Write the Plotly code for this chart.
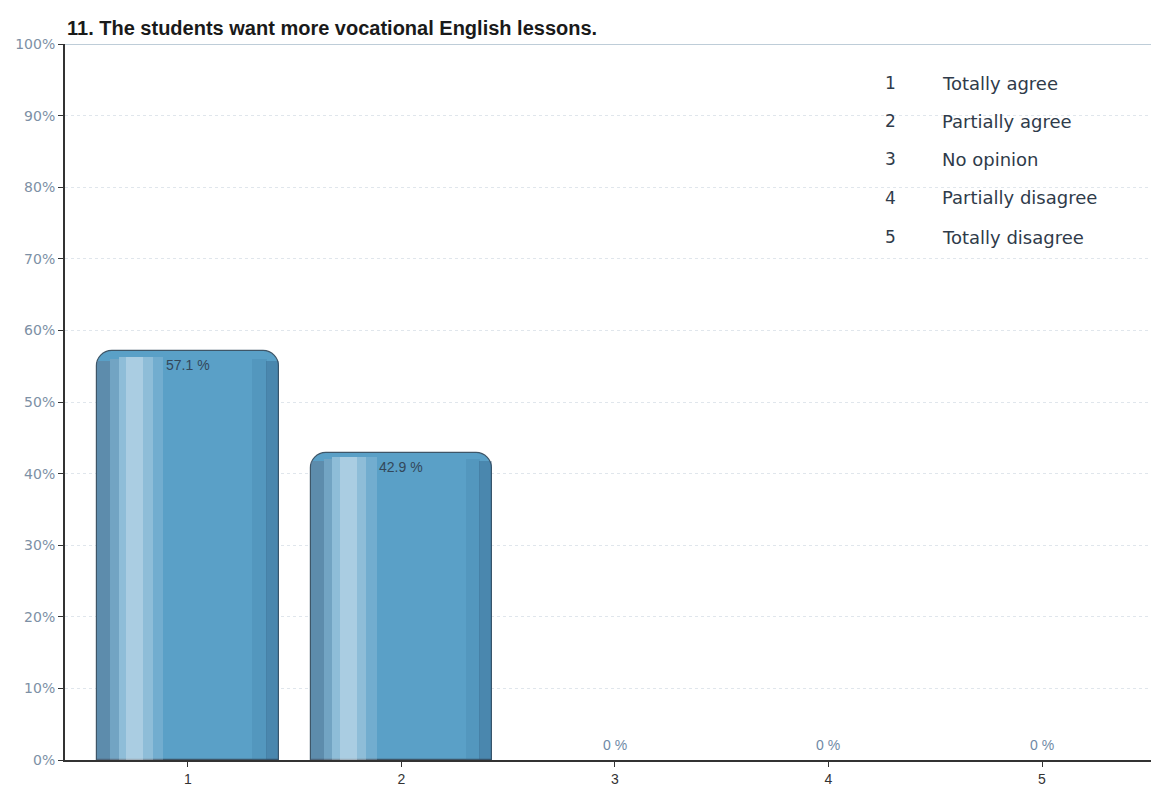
import plotly.graph_objects as go

categories = ["1", "2", "3", "4", "5"]
values = [57.1, 42.9, 0, 0, 0]
value_labels = ["57.1 %", "42.9 %", "0 %", "0 %", "0 %"]
legend_nums = ["1", "2", "3", "4", "5"]
legend_texts = ["Totally agree", "Partially agree", "No opinion", "Partially disagree", "Totally disagree"]
y_ticks = [0, 10, 20, 30, 40, 50, 60, 70, 80, 90, 100]
title_text = "11. The students want more vocational English lessons."

xs = [int(c) for c in categories]
lw = [1.2 if v > 0 else 0 for v in values]

fig = go.Figure()
# main bars
fig.add_trace(go.Bar(
    x=xs, y=values, width=0.85,
    marker=dict(color="#5aa0c7", line=dict(color="#3e5668", width=lw), cornerradius=16),
    hoverinfo="skip", showlegend=False,
))

# cylinder shading strips (offset, width, colour, height factor)
strips = [
    (-0.425, 0.06, "rgba(95,120,145,0.5)", 0.975),
    (-0.365, 0.04, "rgba(150,170,190,0.4)", 0.98),
    (-0.325, 0.16, "rgba(215,228,240,0.42)", 0.985),
    (-0.29, 0.08, "rgba(235,242,250,0.3)", 0.985),
    (-0.165, 0.05, "rgba(200,220,235,0.22)", 0.985),
    (0.30, 0.07, "rgba(50,100,140,0.15)", 0.98),
    (0.365, 0.06, "rgba(40,80,115,0.3)", 0.975),
]
for off, w, col, hf in strips:
    fig.add_trace(go.Bar(
        x=xs, y=[v * hf for v in values], width=w, offset=off,
        marker=dict(color=col, line=dict(width=0)),
        hoverinfo="skip", showlegend=False,
    ))

annotations = [dict(
    text="<b>" + title_text + "</b>", xref="paper", yref="paper", x=0.0, y=1.0,
    xanchor="left", yanchor="bottom", yshift=3, showarrow=False,
    font=dict(family="Liberation Sans, Arial", size=20, color="#1a1a1a"),
)]
# value labels
for x, v, lab in zip(xs, values, value_labels):
    annotations.append(dict(
        text=lab, xref="x", yref="y", x=x, y=v, xanchor="center", yanchor="middle",
        yshift=-14 if v > 0 else 15, showarrow=False,
        font=dict(family="Liberation Sans, Arial", size=14,
                  color="#33475a" if v > 0 else "#6f8aa6"),
    ))
leg_y = [94.5, 89.2, 83.9, 78.5, 73.0]
for n, t, yy in zip(legend_nums, legend_texts, leg_y):
    annotations.append(dict(text=n, xref="paper", yref="y", x=0.7545, y=yy, xanchor="center",
                            yanchor="middle", showarrow=False,
                            font=dict(family="DejaVu Sans", size=17, color="#2f3b4a")))
    annotations.append(dict(text=t, xref="paper", yref="y", x=0.8, y=yy, xanchor="left",
                            yanchor="middle", showarrow=False,
                            font=dict(family="DejaVu Sans", size=18, color="#2f3b4a")))

fig.update_layout(
    width=1151, height=782,
    margin=dict(l=57, r=0, t=36, b=30),
    paper_bgcolor="white", plot_bgcolor="white",
    barmode="overlay", bargap=0,
    annotations=annotations,
    xaxis=dict(range=[0.424, 5.548], tickmode="array", tickvals=xs, ticktext=categories,
               showgrid=False, zeroline=False, showline=True, linecolor="#333333", linewidth=2,
               ticks="outside", ticklen=5, tickcolor="#333333",
               tickfont=dict(family="Liberation Sans, Arial", size=14, color="#333333")),
    yaxis=dict(range=[0, 100], tickmode="array", tickvals=y_ticks,
               ticktext=[f"{t}%" for t in y_ticks],
               showgrid=True, gridcolor="#e0e6ec", griddash="dot", gridwidth=1,
               zeroline=False, showline=True, linecolor="#333333", linewidth=2,
               mirror=False, ticks="outside", ticklen=5, tickcolor="#333333",
               tickfont=dict(family="DejaVu Sans", size=14, color="#7d90a5")),
    shapes=[dict(type="line", xref="paper", yref="y", x0=0, x1=1, y0=100, y1=100,
                 line=dict(color="#a9bccb", width=1.5))],
)

fig.write_html("out.html")
